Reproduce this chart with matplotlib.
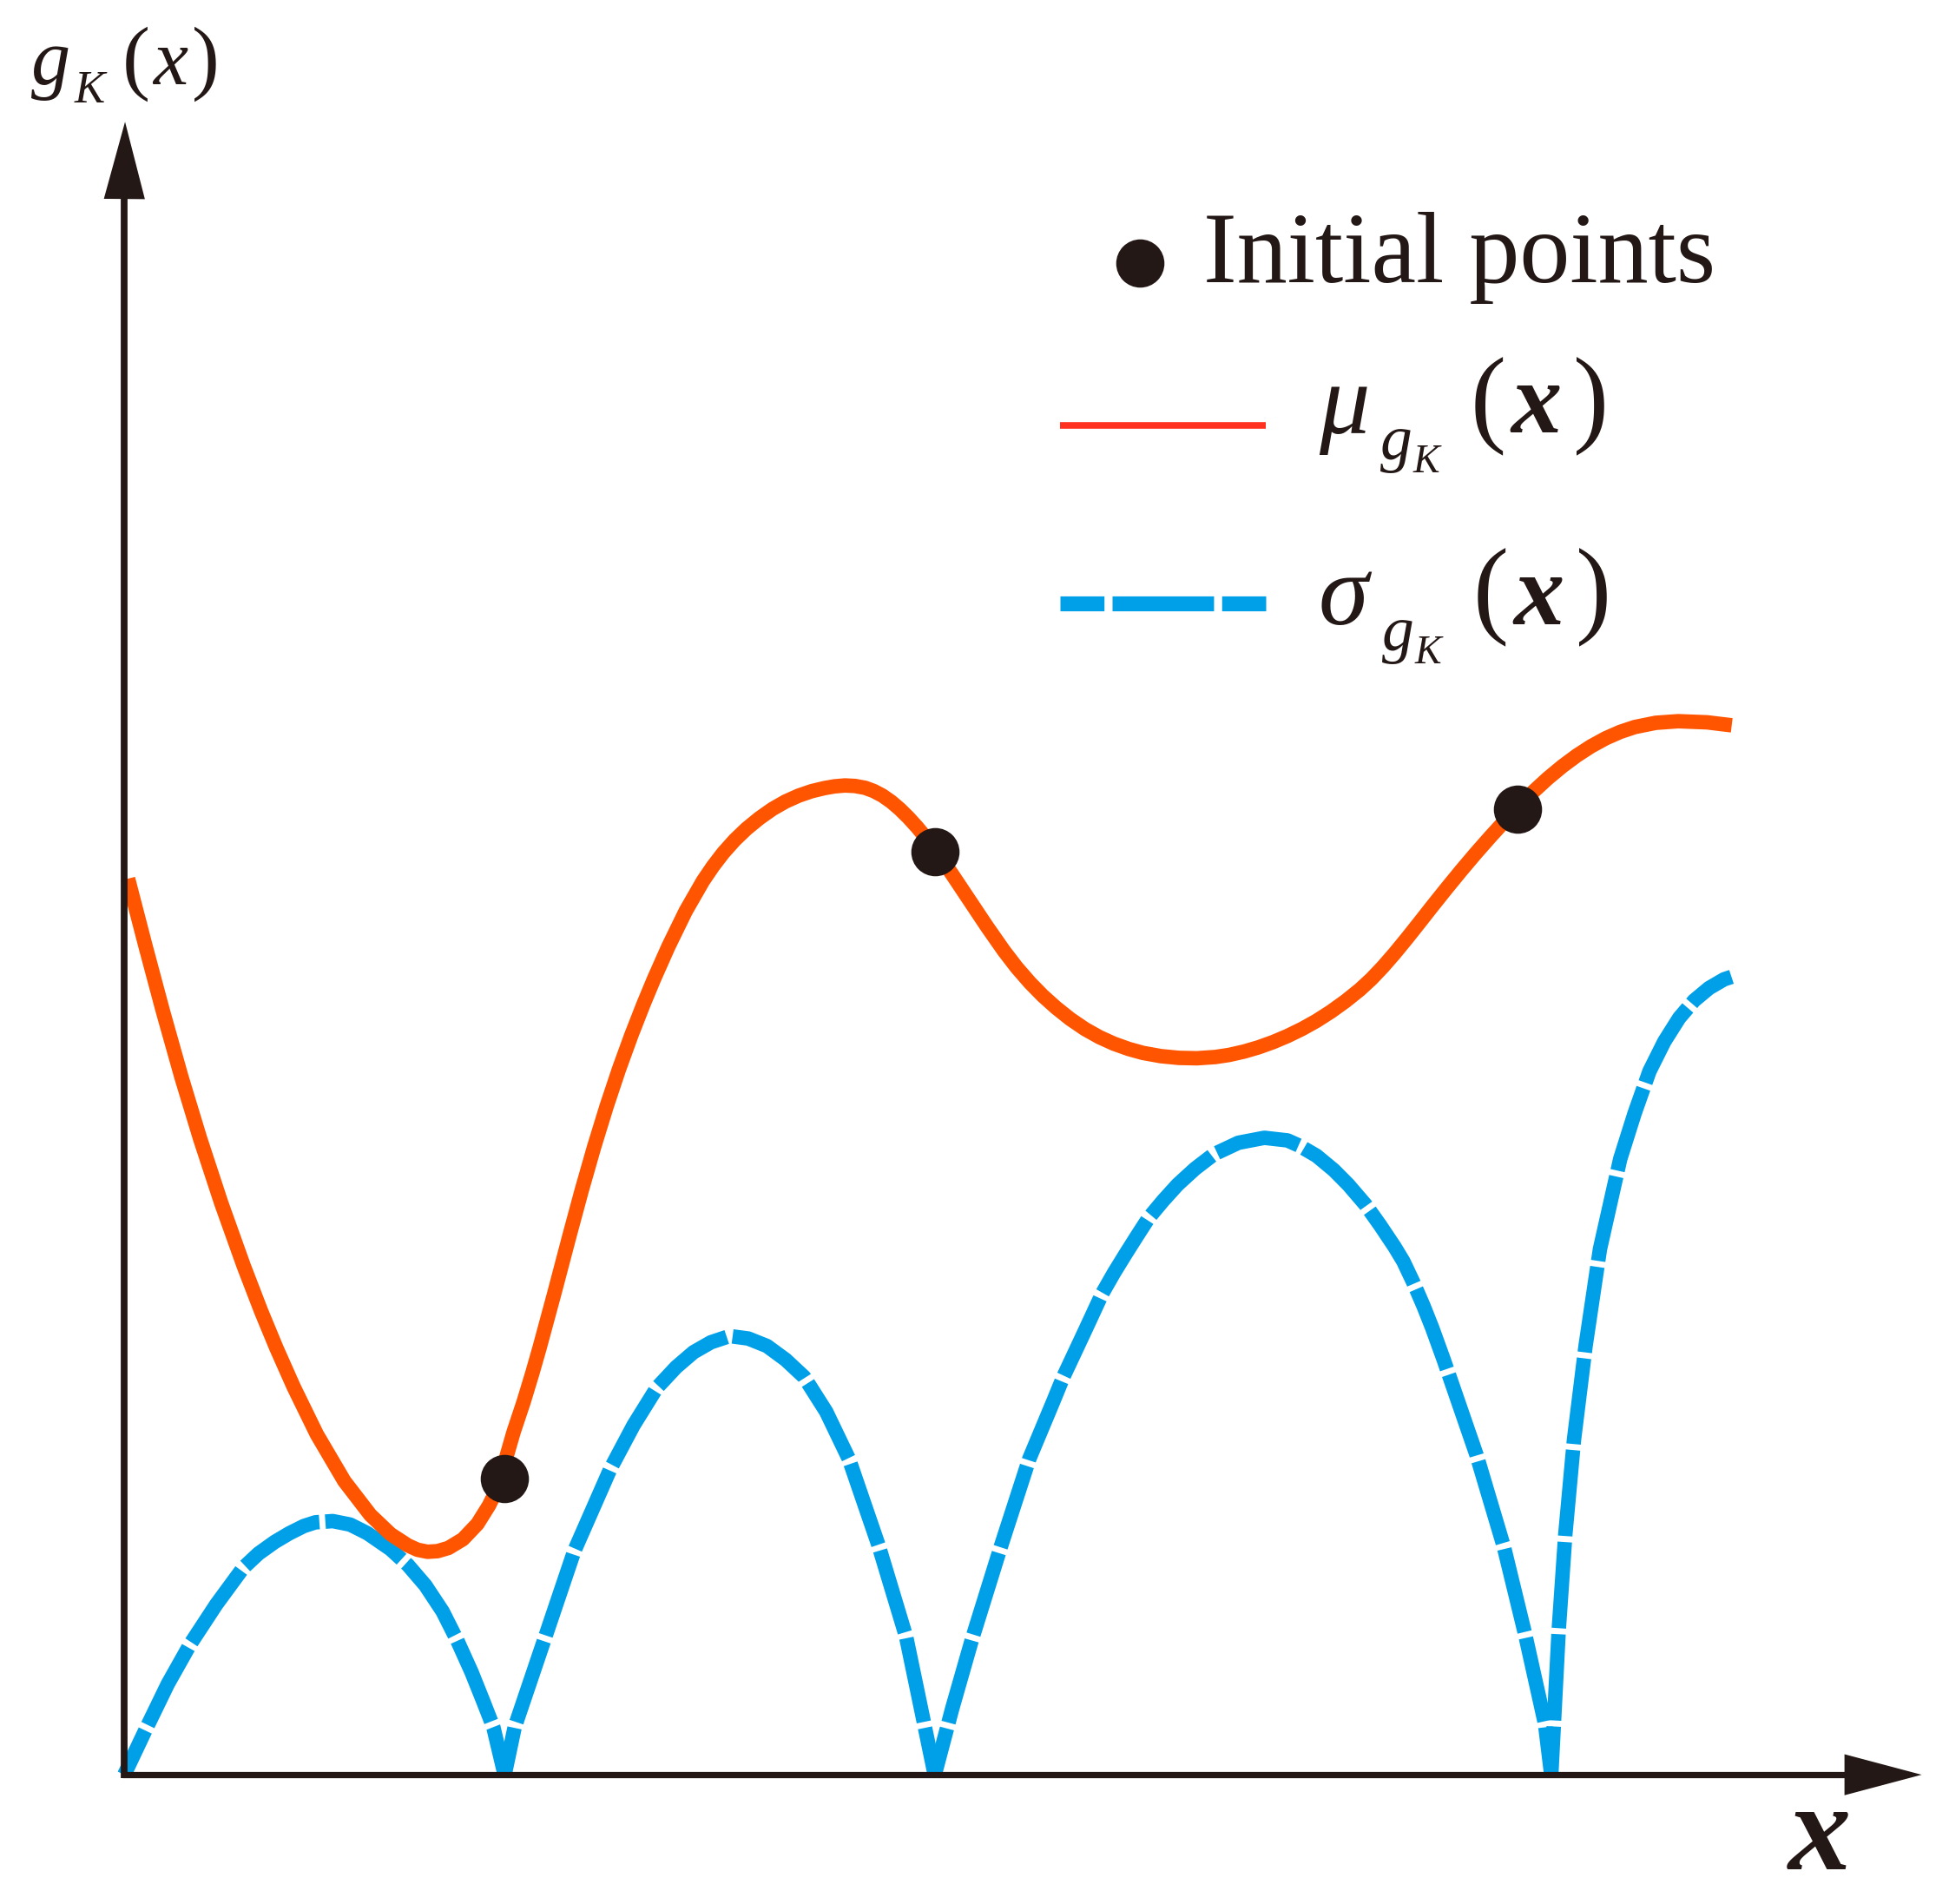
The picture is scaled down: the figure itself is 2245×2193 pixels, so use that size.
import numpy as np
import matplotlib.pyplot as plt
from matplotlib.patches import FancyArrowPatch, ArrowStyle

plt.rcParams['font.family'] = ['Liberation Serif', 'DejaVu Serif']
plt.rcParams['lines.scale_dashes'] = False

# sketch values (arbitrary units, origin at the axes corner)
mu_x = [3, 17, 31, 46, 61, 78, 96, 110, 122.3, 136.2, 154.9, 177, 198, 214.2, 228.2, 236,
        244, 252, 260.8, 272.4, 284.1, 293.4, 300, 313.2, 321.3, 328.3, 334.1, 346, 358.5,
        368, 378, 388, 398, 408, 417.7, 426.1, 437.7, 451.7, 465.6, 473.7, 481.9, 491.2,
        500.6, 511, 521.5, 532, 542.5, 553, 563.4, 571.5, 579.7, 587.8, 596, 603, 610,
        617, 623.9, 630.9, 637.9, 644.9, 651.9, 658.9, 665.8, 679.8, 693.8, 707.7, 718,
        728.7, 739, 749.6, 761, 772.9, 784.5, 796.2, 808, 819.5, 834, 848.5, 863, 877.7,
        889, 900.9, 912.5, 924.2, 935.8, 947.5, 959, 970.7, 982.4, 994.1, 1003.3,
        1012.6, 1022, 1032, 1042, 1052.2, 1063.8, 1075.5, 1087, 1098.8, 1110, 1120.9,
        1133, 1145.3, 1157, 1168.6, 1180, 1191.9, 1203.5, 1215.2, 1232, 1250.1, 1273.4,
        1293.2]
mu_y = [721, 667, 614.6, 561.3, 511.8, 460, 409.6, 373.2, 343.5, 312.2, 273.9, 236.3, 209,
        193.6, 184.5, 181, 179.4, 179.9, 182.5, 189.5, 201.8, 216.7, 230, 275.8, 300.1,
        323.2, 343.5, 387.5, 435, 470.2, 505.2, 537.7, 567.7, 595.2, 620, 640.2, 666.3,
        695, 719.2, 731.1, 741.8, 752.2, 761.2, 769.7, 777.1, 783.1, 787.8, 791.4, 793.9,
        795.3, 796, 795.6, 794.1, 791.5, 787.8, 782.9, 777, 770.1, 762.4, 753.9, 744.7,
        734.9, 724.8, 703.8, 682.8, 662.9, 649.5, 637.2, 626.7, 617.2, 608.1, 600, 593.5,
        588.2, 584, 580.8, 578.2, 576.8, 576.5, 577.5, 579.2, 581.9, 585.3, 589.5, 594.4,
        600.1, 606.5, 614, 622.4, 631.8, 640.3, 650.1, 660.9, 673.1, 685.7, 698.7, 713.2,
        727.5, 741.1, 754.5, 766.8, 778.4, 790.5, 801.8, 811.5, 820.1, 827.5, 834, 839.1,
        843, 846.4, 847.7, 846.8, 844.4]

sigma_x = [0, 18, 35, 53, 74, 95.5, 108, 121, 132.8, 144.4, 153.7, 167.7, 181.7, 195.6,
           214.2, 228.2, 242.2, 256.1, 267.8, 279.4, 288.7, 296.9, 306,
           314, 337, 362, 391, 409.7, 428.4, 444, 458, 472, 487, 502, 517, 532, 547,
           564.7, 583, 607, 629, 640, 652,
           666, 682, 705, 728, 747.3, 755.4, 764.7, 772.9, 786.9, 796.2, 805.5, 814.8,
           824.1, 835.8, 847.4, 861.4, 876.5, 896.3, 917.2, 935.8, 945.2, 959.1, 973.1,
           984.7, 998.7, 1010.3, 1022, 1029, 1037.1, 1045.3, 1052.2, 1061.5, 1088, 1110,
           1127, 1143, 1148,
           1154, 1159.3, 1166.3, 1175.6, 1187.2, 1203.5, 1215, 1227, 1239, 1251, 1263,
           1275, 1287, 1293]
sigma_y = [0, 38, 73, 105, 137, 166.3, 178, 187.3, 194.3, 200.1, 203.1, 204.1, 201.3, 194.3,
           181.5, 168.7, 152.4, 131.4, 108.2, 82.5, 59.3, 38.3, 0,
           38, 106, 180, 246, 281.2, 311.3, 328, 340, 348, 353, 351, 345, 334, 320,
           292.1, 254, 184, 111, 58, 0,
           53, 109, 183, 254, 300.2, 320, 339.8, 357.3, 387.5, 403.8, 418.9, 433.6,
           448, 462, 474.8, 487.6, 499.2, 508.5, 512.5, 510.4, 506.2, 498.1, 486.5,
           474.8, 458.5, 442.2, 424.7, 413.1, 396, 377, 359.6, 333.9, 257, 183,
           113, 41, 0,
           116.2, 193.2, 269.6, 344.9, 423, 495.5, 532, 566, 590, 609, 623,
           633, 640, 642]

init_x = [306, 652, 1121]
init_y = [238, 743, 777]

ink = '#231815'
orange = '#FF5500'
blue = '#00A0E9'

W, H = 2245, 2193
fig = plt.figure(figsize=(W / 100, H / 100), dpi=100)
ax = fig.add_axes([0, 0, 1, 1])
ax.set_xlim(-100, 1468)
ax.set_ylim(-104, 1428)
ax.axis('off')


def fx(px):
    return px / W


def fy(py):
    return 1 - py / H


# axes with arrow heads
ax.plot([-1.5, 1420], [0, 0], color=ink, lw=5.2, solid_capstyle='butt', zorder=5)
ax.plot([0, 0], [-2.5, 1300], color=ink, lw=5.6, solid_capstyle='butt', zorder=5)
head = ArrowStyle('-|>', head_length=64, head_width=17)
ax.add_patch(FancyArrowPatch((1380, 0), (1446, 0), arrowstyle=head, mutation_scale=1,
                             lw=0, color=ink, shrinkA=0, shrinkB=0, zorder=5))
ax.add_patch(FancyArrowPatch((0, 1260), (0.6, 1330), arrowstyle=head, mutation_scale=1,
                             lw=0, color=ink, shrinkA=0, shrinkB=0, zorder=5))


def fit_dashes(xs, ys, d0=69.8, gap=5.0, a_frac=0.56):
    # stretch the dash so every arc starts and ends with a part dash
    pts = ax.transData.transform(np.column_stack([xs, ys])) * 72 / fig.dpi
    length = np.sum(np.hypot(*np.diff(pts, axis=0).T))
    n = max(1, int(round((length - gap - 2 * a_frac * d0) / (d0 + gap))))
    d = (length - (n + 1) * gap) / (n + 2 * a_frac)
    return (d - a_frac * d, (d, gap))


# sigma: one dashed stroke per arc between zeros
sx = np.array(sigma_x)
sy = np.array(sigma_y)
zeros = [i for i in range(1, len(sy) - 1) if sy[i] == 0]
bounds = [0] + zeros + [len(sy) - 1]
for i0, i1 in zip(bounds[:-1], bounds[1:]):
    xs, ys = sx[i0:i1 + 1], sy[i0:i1 + 1]
    ax.plot(xs, ys, color=blue, lw=12, linestyle=fit_dashes(xs, ys),
            dash_capstyle='butt', dash_joinstyle='round', zorder=2)

ax.plot(mu_x, mu_y, color=orange, lw=12, solid_capstyle='butt',
        solid_joinstyle='round', zorder=3)
ax.plot(init_x, init_y, 'o', color=ink, ms=40, mec='none', zorder=4)


def put(parts, base):
    # parts: text, left edge (px), baseline shift (px), size, style, weight
    for s, x, dy, size, style, weight in parts:
        fig.text(fx(x), fy(base + dy), s, fontsize=size, fontstyle=style,
                 fontweight=weight, color=ink, va='baseline', ha='left')


# axis labels
put([('g', 36, 0, 65, 'italic', 'normal'),
     ('K', 86, 21, 38, 'italic', 'normal'),
     ('(', 141, 0, 69, 'normal', 'normal'),
     ('x', 176, 0, 65, 'italic', 'normal'),
     (')', 221, 0, 69, 'normal', 'normal')], 97)
fig.text(fx(2060), fy(2153), 'x', fontsize=104, color=ink, va='baseline',
         fontstyle='italic', fontweight='bold')

# legend
fig.add_artist(plt.Line2D([fx(1312.6)], [fy(302.6)], marker='o', ms=40, color=ink,
                          mec='none', transform=fig.transFigure))
fig.text(fx(1386), fy(325.5), 'Initial points', fontsize=83.5, color=ink, va='baseline')

fig.add_artist(plt.Line2D([fx(1221), fx(1458)], [fy(489.5), fy(489.5)], lw=5.5,
                          color='#FF3222', solid_capstyle='butt',
                          transform=fig.transFigure))
put([('\u03bc', 1519, 0, 84, 'italic', 'normal'),
     ('g', 1590, 30.5, 53, 'italic', 'normal'),
     ('K', 1628, 45.5, 33, 'italic', 'normal'),
     ('(', 1694, 0, 89, 'normal', 'normal'),
     ('x', 1740, 0, 84, 'italic', 'bold'),
     (')', 1812, 0, 89, 'normal', 'normal')], 498.5)

fig.add_artist(plt.Line2D([fx(1221), fx(1458)], [fy(694.7), fy(694.7)], lw=12.4,
                          color=blue, linestyle=(47.7, (84.2, 6.7)),
                          dash_capstyle='butt', transform=fig.transFigure))
put([('\u03c3', 1519, 0, 84, 'italic', 'normal'),
     ('g', 1592, 30.5, 53, 'italic', 'normal'),
     ('K', 1630, 45.5, 33, 'italic', 'normal'),
     ('(', 1697, 0, 89, 'normal', 'normal'),
     ('x', 1743, 0, 84, 'italic', 'bold'),
     (')', 1815, 0, 89, 'normal', 'normal')], 718.6)

fig.savefig('out.png', dpi=100, facecolor='white')
